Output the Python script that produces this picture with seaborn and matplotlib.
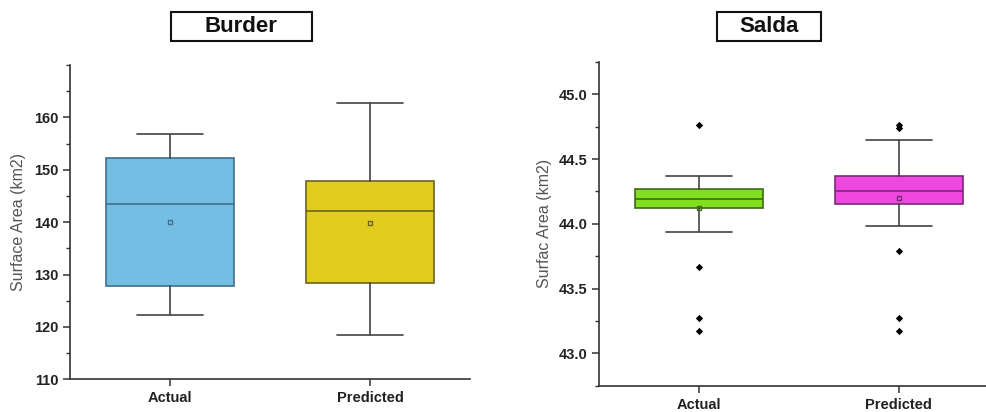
import matplotlib
matplotlib.use('Agg')
import matplotlib.pyplot as plt
from matplotlib.patches import Rectangle
from matplotlib.ticker import MultipleLocator
import pandas as pd
import seaborn as sns

GROUPS = ['Actual', 'Predicted']

# Burder box statistics
burder_whislo = [122.3, 118.4]
burder_q1 = [127.8, 128.4]
burder_median = [143.4, 142.2]
burder_q3 = [152.2, 147.9]
burder_whishi = [156.9, 162.7]
burder_mean = [140.0, 139.9]

# Salda box statistics
salda_whislo = [43.94, 43.98]
salda_q1 = [44.12, 44.15]
salda_median = [44.19, 44.25]
salda_q3 = [44.27, 44.37]
salda_whishi = [44.37, 44.65]
salda_mean = [44.12, 44.20]
salda_fliers_actual = [44.76, 43.67, 43.27, 43.17]
salda_fliers_predicted = [44.76, 44.74, 43.79, 43.27, 43.17]

BURDER_COLORS = ['#74bde3', '#e0cd1e']
BURDER_EDGES = ['#3f6f8c', '#6b6420']
SALDA_COLORS = ['#80e020', '#ee48e0']
SALDA_EDGES = ['#3e6a16', '#7a2a74']


def make_stats(whislo, q1, med, q3, whishi, mean):
    stats = []
    for i in range(len(GROUPS)):
        stats.append({'label': GROUPS[i], 'whislo': whislo[i], 'q1': q1[i], 'med': med[i],
                      'q3': q3[i], 'whishi': whishi[i], 'mean': mean[i], 'fliers': []})
    return stats


def draw_panel(ax, stats, colors, edges, ylabel):
    bp = ax.bxp(stats, positions=[0, 1], widths=0.64, patch_artist=True, showmeans=True,
                showfliers=False,
                whiskerprops=dict(color='#444444', lw=1.2),
                capprops=dict(color='#444444', lw=1.2),
                capwidths=0.33)
    for i, box in enumerate(bp['boxes']):
        box.set_facecolor(colors[i])
        box.set_edgecolor(edges[i])
        box.set_linewidth(1.2)
        bp['medians'][i].set_color(edges[i])
        bp['medians'][i].set_linewidth(1.2)
        bp['means'][i].set(marker='s', markersize=3.5, markerfacecolor='none',
                           markeredgecolor=edges[i], markeredgewidth=1.0)
    ax.set_xlim(-0.5, 1.5)
    ax.set_xticks([0, 1])
    ax.set_xticklabels(GROUPS)
    ax.set_ylabel(ylabel, fontsize=11.5, color='#555555')
    for side in ['left', 'bottom']:
        ax.spines[side].set_color('#333333')
        ax.spines[side].set_linewidth(1.2)
    ax.tick_params(axis='both', which='major', length=5, width=1.1, color='#333333',
                   labelsize=10.5, direction='out')
    ax.tick_params(axis='y', which='minor', length=3, width=1.0, color='#333333')
    for lbl in ax.get_xticklabels() + ax.get_yticklabels():
        lbl.set_fontweight('bold')
        lbl.set_color('#222222')


sns.set_theme(style='ticks')
plt.rcParams['font.family'] = ['Liberation Sans', 'DejaVu Sans']

fig = plt.figure(figsize=(9.87, 4.12), dpi=100)
ax1 = fig.add_axes([0.0709, 0.0794, 0.4053, 0.763])
ax2 = fig.add_axes([0.6072, 0.0638, 0.4046, 0.786])

draw_panel(ax1, make_stats(burder_whislo, burder_q1, burder_median, burder_q3, burder_whishi, burder_mean),
           BURDER_COLORS, BURDER_EDGES, 'Surface Area (km2)')
ax1.set_ylim(110, 170)
ax1.set_yticks([110, 120, 130, 140, 150, 160])
ax1.yaxis.set_minor_locator(MultipleLocator(5))

draw_panel(ax2, make_stats(salda_whislo, salda_q1, salda_median, salda_q3, salda_whishi, salda_mean),
           SALDA_COLORS, SALDA_EDGES, 'Surfac Area (km2)')

fliers = pd.DataFrame({
    'group': [0] * len(salda_fliers_actual) + [1] * len(salda_fliers_predicted),
    'value': salda_fliers_actual + salda_fliers_predicted,
})
sns.scatterplot(data=fliers, x='group', y='value', ax=ax2, marker='D', s=14,
                color='black', edgecolor='black', linewidth=0, legend=False, zorder=5)
ax2.set_xlim(-0.5, 1.5)
ax2.set_xlabel('')
ax2.set_ylabel('Surfac Area (km2)', fontsize=11.5, color='#555555')
ax2.set_ylim(42.75, 45.25)
ax2.set_yticks([43.0, 43.5, 44.0, 44.5, 45.0])
ax2.set_yticklabels(['43.0', '43.5', '44.0', '44.5', '45.0'])
ax2.set_xticks([0, 1])
ax2.set_xticklabels(GROUPS)
ax2.yaxis.set_minor_locator(MultipleLocator(0.25))
ax2.tick_params(axis='y', which='minor', length=3, width=1.0, color='#333333')
for lbl in ax2.get_xticklabels() + ax2.get_yticklabels():
    lbl.set_fontweight('bold')
    lbl.set_color('#222222')
    lbl.set_fontsize(10.5)

sns.despine(fig=fig)

ax1.yaxis.set_label_coords(-0.11, 0.5)
ax2.yaxis.set_label_coords(-0.118, 0.5)

# boxed panel titles
for title, x0, w in [('Burder', 170.7, 141.0), ('Salda', 717.0, 104.0)]:
    fig.patches.append(Rectangle((x0 / 987, (412 - 40.7) / 412), w / 987, 28.7 / 412,
                                 transform=fig.transFigure, fill=False, lw=1.5,
                                 edgecolor='#111111'))
    fig.text((x0 + w / 2) / 987, (412 - 26.3) / 412, title, ha='center', va='center',
             fontsize=16, fontweight='bold', color='#111111')

fig.savefig('out.png', dpi=100)
